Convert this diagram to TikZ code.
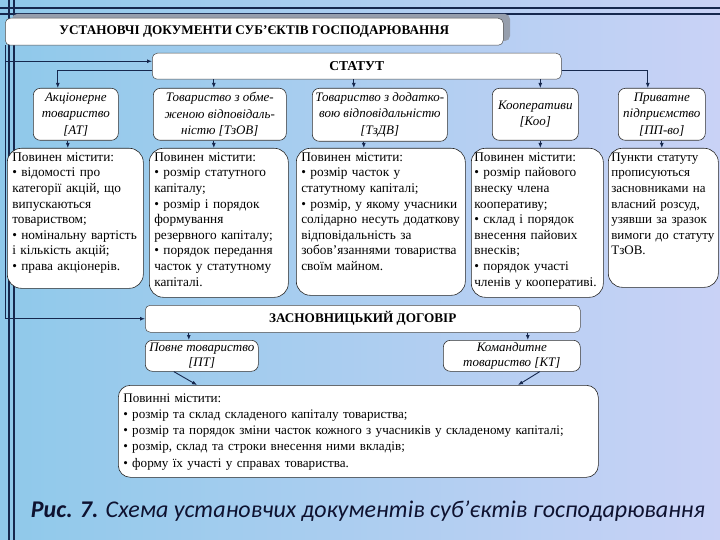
\documentclass[tikz,border=0pt]{standalone}
\usepackage{fontspec}
\setmainfont{Liberation Serif}
\newfontfamily\capfont{Carlito}
\definecolor{bgleft}{RGB}{143,201,234}
\definecolor{bgright}{RGB}{201,210,246}
\definecolor{navy}{RGB}{22,40,78}
\definecolor{shadowgray}{RGB}{150,158,172}
\definecolor{capcol}{RGB}{14,18,48}
\usetikzlibrary{arrows.meta,positioning,calc}

\begin{document}
\begin{tikzpicture}[x=1pt,y=-1pt,
  conn/.style={draw=navy,line width=0.9pt,-{Latex[length=5pt,width=4pt]}},
  deco/.style={draw=navy,line width=1.8pt},
  hdbox/.style={draw=black!70,fill=white,rounded corners=5pt,line width=0.5pt,
    font=\fontsize{13.2}{15}\selectfont\bfseries,inner sep=0pt,anchor=north west},
  formbox/.style={draw=black!80,fill=white,rounded corners=7pt,line width=0.6pt,
    font=\fontsize{13}{16.5}\selectfont\itshape,align=center,inner sep=1pt,anchor=north west},
  listbox/.style={draw=black!85,fill=white,rounded corners=14pt,line width=0.6pt,
    font=\fontsize{13.3}{15.6}\selectfont,align=left,anchor=north west,
    inner xsep=5pt,inner ysep=0pt,text height=13pt}
]
  \useasboundingbox (0,0) rectangle (720,540);
  \shade[left color=bgleft,right color=bgright] (0,0) rectangle (720,540);
  \draw[deco] (9,0) -- (9,540);
  \draw[deco] (14,0) -- (14,540);
  \draw[deco] (0,8) -- (720,8);
  \draw[deco] (0,14) -- (720,14);
  \fill[shadowgray,rounded corners=5pt] (12,14) rectangle (510,41);

  \node[hdbox,minimum width=498,minimum height=27] (title) at (5,18) {УСТАНОВЧІ ДОКУМЕНТИ СУБ’ЄКТІВ ГОСПОДАРЮВАННЯ};
  \node[hdbox,minimum width=409,minimum height=26,font=\fontsize{13.6}{15}\selectfont\bfseries] (statut) at (152,53) {СТАТУТ};

  \node[formbox,minimum width=85,minimum height=52] (ato) at (33,88) {Акціонерне\\товариство\\{[АТ]}};
  \node[formbox,minimum width=133,minimum height=52] (tzov) at (153,88) {Товариство з обме-\\женою відповідаль-\\ністю [ТзОВ]};
  \node[formbox,minimum width=135,minimum height=53] (tzdv) at (312,88) {Товариство з додатко-\\вою відповідальністю\\{[ТзДВ]}};
  \node[formbox,minimum width=86,minimum height=52] (koo) at (492,88) {Кооперативи\\{[Коо]}};
  \node[formbox,minimum width=87,minimum height=52] (pp) at (618,88) {Приватне\\підприємство\\{[ПП-во]}};

  \node[listbox,text width=126,text depth=127] (b1) at (7,148) {Повинен містити:\\• відомості про\\категорії акцій, що\\випускаються\\товариством;\\• номінальну вартість\\і кількість акцій;\\• права акціонерів.};
  \node[listbox,text width=129,text depth=136] (b2) at (149,148) {Повинен містити:\\• розмір статутного\\капіталу;\\• розмір і порядок\\формування\\резервного капіталу;\\• порядок передання\\часток у статутному\\капіталі.};
  \node[listbox,text width=159,text depth=134] (b3) at (296,148) {Повинен містити:\\• розмір часток у\\статутному капіталі;\\• розмір, у якому учасники\\солідарно несуть додаткову\\відповідальність за\\зобов’язаннями товариства\\своїм майном.};
  \node[listbox,inner xsep=3pt,text width=126,text depth=136] (b4) at (471,148) {Повинен містити:\\• розмір пайового\\внеску члена\\кооперативу;\\• склад і порядок\\внесення пайових\\внесків;\\• порядок участі\\членів у кооперативі.};
  \node[listbox,inner xsep=3pt,text width=104,text depth=126,font=\fontsize{13}{15.6}\selectfont] (b5) at (608,148) {Пункти статуту\\прописуються\\засновниками на\\власний розсуд,\\узявши за зразок\\вимоги до статуту\\ТзОВ.};

  \node[hdbox,minimum width=435,minimum height=27] (zasn) at (145,305) {ЗАСНОВНИЦЬКИЙ ДОГОВІР};
  \node[formbox,minimum width=113,minimum height=31,font=\fontsize{13}{15}\selectfont\itshape] (pt) at (145,340) {Повне товариство\\{[ПТ]}};
  \node[formbox,minimum width=137,minimum height=31,font=\fontsize{13}{15}\selectfont\itshape] (kt) at (443,340) {Командитне\\товариство [КТ]};
  \node[listbox,text width=470,text height=17pt,text depth=75,rounded corners=12pt,
    font=\fontsize{13.1}{16.2}\selectfont] (bot) at (118,385) {Повинні містити:\\• розмір та склад складеного капіталу товариства;\\• розмір та порядок зміни часток кожного з учасників у складеному капіталі;\\• розмір, склад та строки внесення ними вкладів;\\• форму їх участі у справах товариства.};

  \node[font=\capfont\fontsize{24}{28}\selectfont\itshape,text=capcol] (cap) at (368,511) {\textbf{Рис. 7.} Схема установчих документів суб’єктів господарювання};

  % connectors
  \coordinate (sin) at ([yshift=5pt]statut.west);
  \coordinate (sout) at ([yshift=-4pt]statut.west);
  \coordinate (sright) at ([yshift=-4pt]statut.east);
  \draw[navy,line width=0.9pt] (title.south west) -- (title.south west |- zasn.west);
  \draw[conn] (title.south west |- sin) -- (sin);
  \draw[conn] (title.south west |- zasn.west) -- (zasn.west);
  \draw[conn] (sout) -| ([xshift=-18pt]ato.north);
  \draw[conn] ([xshift=-6pt]tzov.north |- statut.south) -- ([xshift=-6pt]tzov.north);
  \draw[conn] ([xshift=-26pt]tzdv.north |- statut.south) -- ([xshift=-26pt]tzdv.north);
  \draw[conn] ([xshift=5pt]koo.north |- statut.south) -- ([xshift=5pt]koo.north);
  \draw[conn] (sright) -| ([xshift=-14pt]pp.north);
  \draw[conn] ([xshift=-8pt]ato.south) -- ([xshift=-8pt]ato.south |- b1.north);
  \draw[conn] ([xshift=-6pt]tzov.south) -- ([xshift=-6pt]tzov.south |- b2.north);
  \draw[conn] ([xshift=-16pt]tzdv.south) -- ([xshift=-16pt]tzdv.south |- b3.north);
  \draw[conn] ([xshift=5pt]koo.south) -- ([xshift=5pt]koo.south |- b4.north);
  \draw[conn] (pp.south) -- (pp.south |- b5.north);
  \draw[conn] ([xshift=-13pt]pt.north |- zasn.south) -- ([xshift=-13pt]pt.north);
  \draw[conn] ([xshift=16pt]kt.north |- zasn.south) -- ([xshift=16pt]kt.north);
  \draw[conn] ([xshift=-28pt]pt.south) -- ($(bot.north west)+(79,0)$);
  \draw[conn] ([xshift=28pt]kt.south) -- ($(bot.north west)+(400,0)$);
\end{tikzpicture}
\end{document}
